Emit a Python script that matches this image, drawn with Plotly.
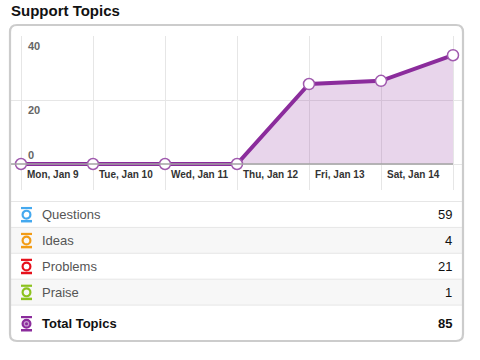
import plotly.graph_objects as go

# ---- data ----
title = "Support Topics"
days = ["Mon, Jan 9", "Tue, Jan 10", "Wed, Jan 11", "Thu, Jan 12",
        "Fri, Jan 13", "Sat, Jan 14", "Sun, Jan 15"]
topics_per_day = [0, 0, 0, 0, 25, 26, 34]
y_ticks = [0, 20, 40]

row_labels = ["Questions", "Ideas", "Problems", "Praise"]
row_counts = [59, 4, 21, 1]
row_colors = ["#45a9ef", "#f29c16", "#e6101b", "#8cc21f"]
total_label = "Total Topics"
total_count = 85
total_color = "#8b2c9c"

W, H = 480, 360
def px(x):
    return x / W
def py(y):
    return 1 - y / H

LINE = "#8b2c9c"
FONT = "Liberation Sans, Arial, Helvetica, sans-serif"

n = len(days)
xs = list(range(n))
unit = 72.0
x_left, x_right = 11, 463
x0 = -(21 - x_left) / unit
x1 = (n - 1) + (x_right - 453) / unit
y_top_px, y_bot_px = 36, 190
ppu = 3.2
y_max = 40
y_min = y_max - (y_bot_px - y_top_px) / ppu

fig = go.Figure()
fig.add_trace(go.Scatter(
    x=xs, y=topics_per_day, mode="lines+markers",
    line=dict(color=LINE, width=4),
    fill="tozeroy", fillcolor="rgba(139,44,156,0.2)",
    marker=dict(size=11, color="white", line=dict(color="#a05aae", width=1.5)),
    cliponaxis=False, hoverinfo="skip", showlegend=False,
))

shapes = []
annotations = []

# axis baseline
shapes.append(dict(type="line", xref="x", yref="y", x0=x0, x1=xs[-1], y0=0, y1=0,
                   line=dict(color="#a3a3a3", width=1.5), layer="above"))

# y labels
for v in y_ticks:
    if v == 0:
        annotations.append(dict(xref="x", yref="y", x=x0, y=v, text="<b>%d</b>" % v,
                                showarrow=False, xanchor="left", yanchor="bottom",
                                xshift=15, yshift=1,
                                font=dict(family=FONT, size=11, color="#666666")))
    else:
        annotations.append(dict(xref="x", yref="y", x=x0, y=v, text="<b>%d</b>" % v,
                                showarrow=False, xanchor="left", yanchor="top",
                                xshift=15, yshift=-2,
                                font=dict(family=FONT, size=11, color="#666666")))

# x labels (last one has no room)
for i, d in enumerate(days[:-1]):
    annotations.append(dict(xref="x", yref="y", x=i, y=0, text="<b>%s</b>" % d,
                            showarrow=False, xanchor="left", yanchor="top",
                            xshift=4, yshift=-3,
                            font=dict(family=FONT, size=10, color="#333333")))

# title
annotations.append(dict(xref="paper", yref="paper", x=px(9), y=py(10), text="<b>%s</b>" % title,
                        showarrow=False, xanchor="left", yanchor="middle",
                        font=dict(family=FONT, size=15, color="#111111")))

# table rows
row_top0 = 201.5
row_h = 25.9
for i, (lab, cnt, col) in enumerate(zip(row_labels, row_counts, row_colors)):
    top = row_top0 + row_h * i
    bot = top + row_h
    cy = (top + bot) / 2
    if i % 2 == 1:
        shapes.append(dict(type="rect", xref="paper", yref="paper",
                           x0=px(11), x1=px(463), y0=py(bot), y1=py(top),
                           fillcolor="#f7f7f7", line=dict(width=0), layer="below"))
    shapes.append(dict(type="line", xref="paper", yref="paper", x0=px(11), x1=px(463),
                       y0=py(top), y1=py(top), line=dict(color="#e6e6e6", width=1)))
    # icon
    shapes.append(dict(type="rect", xref="paper", yref="paper", x0=px(21), x1=px(32),
                       y0=py(cy - 5.3), y1=py(cy - 7.5), fillcolor=col, line=dict(width=0)))
    shapes.append(dict(type="rect", xref="paper", yref="paper", x0=px(21), x1=px(32),
                       y0=py(cy + 8), y1=py(cy + 5.5), fillcolor=col, line=dict(width=0)))
    shapes.append(dict(type="circle", xref="paper", yref="paper", x0=px(22.6), x1=px(30.4),
                       y0=py(cy + 4.1), y1=py(cy - 3.7), line=dict(color=col, width=2.2)))
    annotations.append(dict(xref="paper", yref="paper", x=px(40), y=py(cy), text=lab,
                            showarrow=False, xanchor="left", yanchor="middle",
                            font=dict(family=FONT, size=13, color="#555555")))
    annotations.append(dict(xref="paper", yref="paper", x=px(454), y=py(cy), text=str(cnt),
                            showarrow=False, xanchor="right", yanchor="middle",
                            font=dict(family=FONT, size=13, color="#111111")))

# total row
ttop = row_top0 + row_h * len(row_labels)
shapes.append(dict(type="line", xref="paper", yref="paper", x0=px(11), x1=px(463),
                   y0=py(ttop), y1=py(ttop), line=dict(color="#e6e6e6", width=1)))
tcy = 323.5
shapes.append(dict(type="rect", xref="paper", yref="paper", x0=px(21), x1=px(32),
                   y0=py(tcy - 5.3), y1=py(tcy - 7.5), fillcolor=total_color, line=dict(width=0)))
shapes.append(dict(type="rect", xref="paper", yref="paper", x0=px(21), x1=px(32),
                   y0=py(tcy + 8), y1=py(tcy + 5.5), fillcolor=total_color, line=dict(width=0)))
shapes.append(dict(type="circle", xref="paper", yref="paper", x0=px(22.6), x1=px(30.4),
                   y0=py(tcy + 4.1), y1=py(tcy - 3.7), fillcolor="#c79bd0",
                   line=dict(color=total_color, width=2.2)))
shapes.append(dict(type="circle", xref="paper", yref="paper", x0=px(25), x1=px(28),
                   y0=py(tcy + 1.7), y1=py(tcy - 1.3), fillcolor=total_color, line=dict(width=0)))
annotations.append(dict(xref="paper", yref="paper", x=px(40), y=py(tcy), text="<b>%s</b>" % total_label,
                        showarrow=False, xanchor="left", yanchor="middle",
                        font=dict(family=FONT, size=13, color="#111111")))
annotations.append(dict(xref="paper", yref="paper", x=px(454), y=py(tcy), text="<b>%d</b>" % total_count,
                        showarrow=False, xanchor="right", yanchor="middle",
                        font=dict(family=FONT, size=13, color="#111111")))

# card border with rounded corners
L, R, T, B, r = 10, 463, 25, 341, 7
path = (f"M {px(L+r)},{py(T)} L {px(R-r)},{py(T)} Q {px(R)},{py(T)} {px(R)},{py(T+r)} "
        f"L {px(R)},{py(B-r)} Q {px(R)},{py(B)} {px(R-r)},{py(B)} "
        f"L {px(L+r)},{py(B)} Q {px(L)},{py(B)} {px(L)},{py(B-r)} "
        f"L {px(L)},{py(T+r)} Q {px(L)},{py(T)} {px(L+r)},{py(T)} Z")
shapes.append(dict(type="path", xref="paper", yref="paper", path=path,
                   line=dict(color="#cccccc", width=2.2), layer="above"))

fig.update_layout(
    width=W, height=H, margin=dict(l=0, r=0, t=0, b=0),
    paper_bgcolor="white", plot_bgcolor="rgba(0,0,0,0)",
    xaxis=dict(domain=[px(x_left), px(x_right)], range=[x0, x1], tickvals=xs,
               showticklabels=False, showgrid=True, gridcolor="#e6e6e6", gridwidth=1,
               zeroline=False, showline=False, fixedrange=True),
    yaxis=dict(domain=[py(y_bot_px), py(y_top_px)], range=[y_min, y_max + 0.01], tickvals=y_ticks,
               showticklabels=False, showgrid=True, gridcolor="#e6e6e6", gridwidth=1,
               zeroline=False, showline=False, fixedrange=True),
    shapes=shapes, annotations=annotations, showlegend=False,
)

fig.write_html("out.html", config={"displayModeBar": False},
               post_script="document.body.style.margin='0';document.body.style.overflow='hidden';")
